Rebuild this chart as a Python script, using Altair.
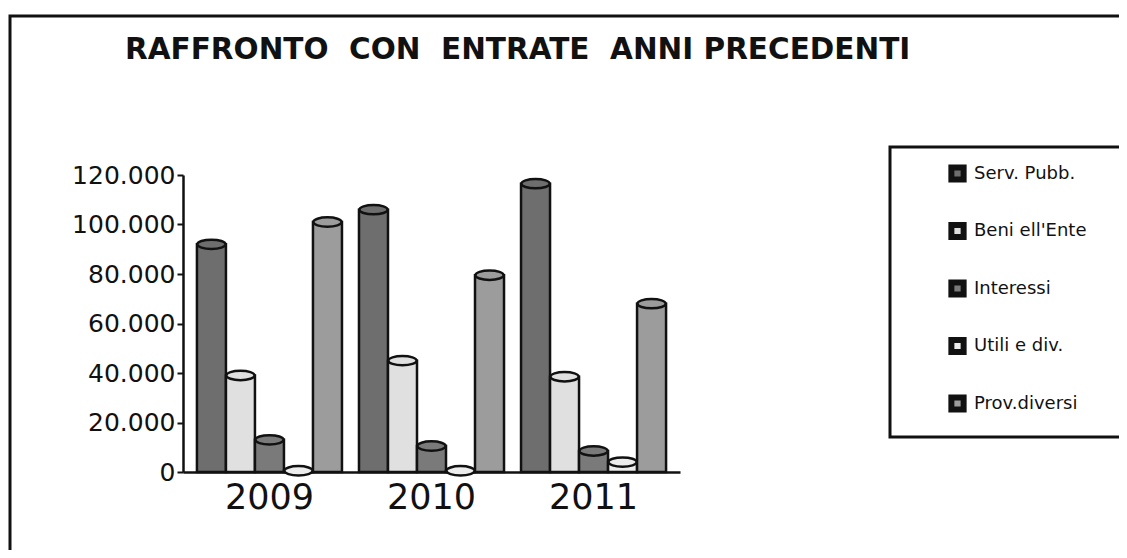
import altair as alt
import pandas as pd

# ---- data ----
years = ["2009", "2010", "2011"]
series = ["Serv. Pubb.", "Beni ell'Ente", "Interessi", "Utili e div.", "Prov.diversi"]
serv_pubb = [92000, 106000, 116500]
beni_ente = [39000, 45000, 38500]
interessi = [13000, 10500, 8500]
utili_div = [500, 500, 4000]
prov_diversi = [101000, 79500, 68000]
colors = ["#6e6e6e", "#e0e0e0", "#7a7a7a", "#ededed", "#9c9c9c"]
y_ticks = [0, 20000, 40000, 60000, 80000, 100000, 120000]
title_text = "RAFFRONTO\u00a0\u00a0CON\u00a0\u00a0ENTRATE\u00a0\u00a0ANNI PRECEDENTI"

rows = []
for name, vals in zip(series, [serv_pubb, beni_ente, interessi, utili_div, prov_diversi]):
    for yr, v in zip(years, vals):
        rows.append({"anno": yr, "voce": name, "valore": v})
df = pd.DataFrame(rows)
one = pd.DataFrame({"k": [0]})

FONT = "DejaVu Sans"

x_enc = alt.X(
    "anno:N",
    sort=years,
    scale=alt.Scale(paddingInner=0.105, paddingOuter=0.086),
    axis=alt.Axis(title=None, labelAngle=0, ticks=False, labelFontSize=35,
                  labelPadding=8, labelFont=FONT, labelColor="#111",
                  domainColor="#111", domainWidth=2.5),
)
xoff_enc = alt.XOffset("voce:N", sort=series,
                       scale=alt.Scale(paddingInner=0, paddingOuter=0))
y_enc = alt.Y(
    "valore:Q",
    scale=alt.Scale(domain=[0, 120000], nice=False),
    axis=alt.Axis(title=None, values=y_ticks, grid=False, tickSize=6,
                  tickWidth=2, tickColor="#111", domainColor="#111",
                  domainWidth=2.5, labelFontSize=25, labelFont=FONT,
                  labelColor="#111", labelPadding=2,
                  labelExpr="datum.value == 0 ? '0' : format(datum.value / 1000, 'd') + '.000'"),
)
legend = alt.Legend(
    title=None, orient="none", legendX=707, legendY=-33, padding=22,
    symbolOffset=36, symbolType="square", symbolSize=150,
    symbolStrokeColor="#111", symbolStrokeWidth=6,
    labelFont=FONT, labelFontSize=18, labelColor="#111", labelOffset=7,
    rowPadding=20.5, labelLimit=0,
)
color_enc = alt.Color("voce:N", sort=series,
                      scale=alt.Scale(domain=series, range=colors), legend=legend)

frame = alt.Chart(one).mark_rect(fill="white", fillOpacity=0, stroke="#111",
                                 strokeWidth=3).encode(
    x=alt.value(-173), x2=alt.value(1100), y=alt.value(-159), y2=alt.value(600))

legend_box = alt.Chart(one).mark_rect(fill="white", fillOpacity=0, stroke="#111",
                                      strokeWidth=3).encode(
    x=alt.value(707), x2=alt.value(1100), y=alt.value(-28), y2=alt.value(262))

bars = alt.Chart(df).mark_bar(stroke="#111", strokeWidth=2.5).encode(
    x=x_enc, xOffset=xoff_enc, y=y_enc, color=color_enc)

ellipse = "M -1 0 A 1 0.33 0 1 1 1 0 A 1 0.33 0 1 1 -1 0 Z"
caps = alt.Chart(df).mark_point(shape=ellipse, size=800, filled=True,
                                opacity=1, stroke="#111", strokeWidth=2.5).encode(
    x=x_enc, xOffset=xoff_enc, y=y_enc, color=color_enc)

title = alt.Chart(one).mark_text(text=title_text, align="left", baseline="alphabetic",
                                 font=FONT, fontSize=29.5, fontWeight="bold",
                                 color="#111").encode(
    x=alt.value(-58), y=alt.value(-116))

chart = alt.layer(frame, legend_box, bars, caps, title).properties(
    width=497, height=297,
    padding={"left": 175, "top": 167, "right": 439, "bottom": 78},
    autosize=alt.AutoSizeParams(type="none"),
    background="white",
).configure_view(stroke="transparent")

chart.save("out.html", embed_options={"renderer": "svg", "actions": False})
